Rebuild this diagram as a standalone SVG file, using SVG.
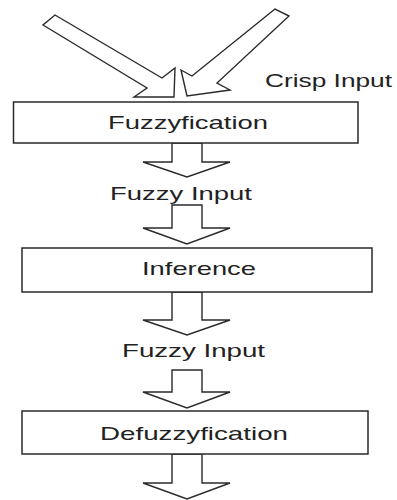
<svg xmlns="http://www.w3.org/2000/svg" width="397" height="500" viewBox="0 0 397 500">
<style>
.box{fill:#fff;stroke:#2a2a2a;stroke-width:1.5}
.arr{fill:#fff;stroke:#2a2a2a;stroke-width:1.4;stroke-linejoin:miter}
.lbl{font-family:"Liberation Sans",Arial,sans-serif;font-size:19px;fill:#222}
</style>
<rect width="397" height="500" fill="#fff"/>
<g id="connectors">
<polygon class="arr" points="55,15 162,78 175,68 174,97 134,97 147,88 43,25"/>
<polygon class="arr" points="275,9 192,76 181,70 187,96 230,90 217,83 289,16"/>
<polygon class="arr" points="172,143 202,143 202,162 230,162 187,177 143,162 172,162"/>
<polygon class="arr" points="172,205 202,205 202,228 230,228 187,244 143,228 172,228"/>
<polygon class="arr" points="172,292 202,292 202,320 230,320 187,335 143,320 172,320"/>
<polygon class="arr" points="172,370 202,370 202,392 230,392 187,408 143,392 172,392"/>
<polygon class="arr" points="172,454 202,454 202,483 230,483 187,499 143,483 172,483"/>
</g>
<g id="crisp-input">
<text class="lbl" x="265" y="87" textLength="127" lengthAdjust="spacingAndGlyphs">Crisp Input</text>
</g>
<g id="fuzzyfication">
<rect class="box" x="13.5" y="102" width="344.5" height="41"/>
<text class="lbl" x="108" y="129" textLength="160" lengthAdjust="spacingAndGlyphs">Fuzzyfication</text>
</g>
<g id="fuzzy-input-1">
<text class="lbl" x="110" y="200" textLength="142" lengthAdjust="spacingAndGlyphs">Fuzzy Input</text>
</g>
<g id="inference">
<rect class="box" x="22" y="248" width="350" height="44"/>
<text class="lbl" x="142" y="275" textLength="114" lengthAdjust="spacingAndGlyphs">Inference</text>
</g>
<g id="fuzzy-input-2">
<text class="lbl" x="122" y="357" textLength="143" lengthAdjust="spacingAndGlyphs">Fuzzy Input</text>
</g>
<g id="defuzzyfication">
<rect class="box" x="22" y="411" width="346" height="43"/>
<text class="lbl" x="100" y="440" textLength="188" lengthAdjust="spacingAndGlyphs">Defuzzyfication</text>
</g>
</svg>
